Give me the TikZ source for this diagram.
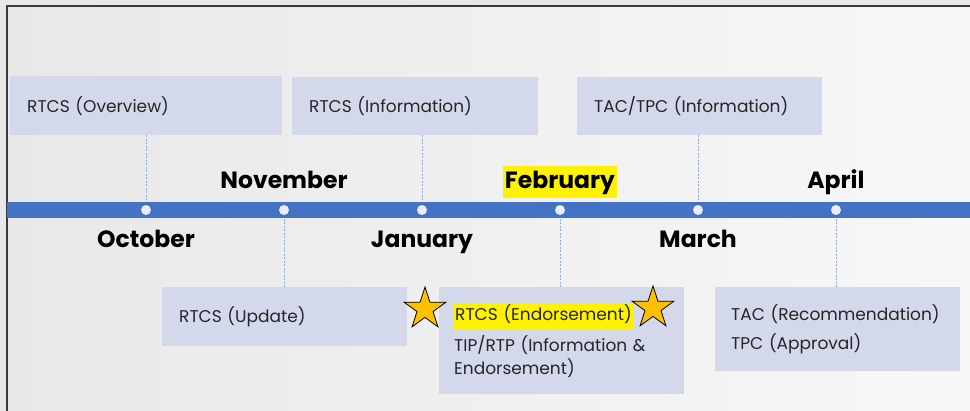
\documentclass[tikz,border=0pt]{standalone}
\usepackage{fontspec}
\setmainfont{Poppins}
\usetikzlibrary{shapes.geometric}
\definecolor{barblue}{HTML}{4472C4}
\definecolor{boxfill}{HTML}{D3D8EA}
\definecolor{conncol}{HTML}{8FAADC}
\definecolor{dotfill}{HTML}{E9EEF8}
\definecolor{starfill}{HTML}{FFC000}
\definecolor{framecol}{HTML}{3A3A3A}
\newcommand{\hlt}[1]{{\setlength{\fboxsep}{1pt}\colorbox{yellow}{\strut #1}}}
\tikzset{
  box/.style={fill=boxfill, draw=none, anchor=north west, inner xsep=17pt, inner ysep=0pt, align=left, font=\fontsize{17}{23}\selectfont, text=black!85},
  conn/.style={draw=conncol, line width=0.8pt, dash pattern=on 2pt off 1.5pt},
  dot/.style={circle, fill=dotfill, draw=none, minimum size=10pt, inner sep=0pt},
  month/.style={font=\fontsize{23.5}{26}\bfseries\selectfont, text=black, inner sep=1pt, anchor=base},
  starshape/.style={star, star points=5, star point ratio=2.618, fill=starfill, draw=black, line width=0.8pt, minimum size=44pt, inner sep=0pt}
}
\begin{document}
\begin{tikzpicture}[x=1pt,y=-1pt]
\useasboundingbox (0,0) rectangle (970,411);
\fill[gray!18] (0,0) rectangle (970,411);
\shade[left color=black!9, right color=black!3] (7,6) rectangle (970,411);
\draw[framecol, line width=1.3pt] (7,411) -- (7,6) -- (970,6);
% boxes
\node[box, minimum width=272pt, minimum height=59pt, text width=238pt] (b1) at (10,76) {RTCS (Overview)};
\node[box, minimum width=246pt, minimum height=58pt, text width=212pt] (b2) at (292,77) {RTCS (Information)};
\node[box, minimum width=245pt, minimum height=58pt, text width=211pt] (b3) at (577,77) {TAC/TPC (Information)};
\node[box, minimum width=245pt, minimum height=59pt, text width=211pt] (b4) at (162,287) {RTCS (Update)};
\node[box, minimum width=245pt, minimum height=107pt, text width=215pt, inner xsep=15pt] (b5) at (439,287) {\hlt{RTCS (Endorsement)}\\[6pt]TIP/RTP (Information \&\\Endorsement)};
\node[box, minimum width=245pt, minimum height=84pt, text width=213pt, inner xsep=16pt] (b6) at (715,287) {TAC (Recommendation)\\[6pt]TPC (Approval)};
% dots
\node[dot] (d1) at (146,210) {};
\node[dot] (d2) at (284,210) {};
\node[dot] (d3) at (422,210) {};
\node[dot] (d4) at (560,210) {};
\node[dot] (d5) at (698,210) {};
\node[dot] (d6) at (836,210) {};
% connectors
\draw[conn] (b1.south -| d1) -- (d1);
\draw[conn] (b2.south -| d3) -- (d3);
\draw[conn] (b3.south -| d5) -- (d5);
\draw[conn] (d2) -- (b4.north -| d2);
\draw[conn] (d4) -- (b5.north -| d4);
\draw[conn] (d6) -- (b6.north -| d6);
% bar
\fill[barblue] (7,202) rectangle (970,218);
\foreach \d in {d1,d2,d3,d4,d5,d6} {\node[dot] at (\d) {};}
% months
\node[month] (m1) at (146,248) {October};
\node[month] (m2) at (284,189) {November};
\node[month] (m3) at (422,248) {January};
\node[month, fill=yellow, text height=19pt, text depth=6pt, inner ysep=3.5pt, inner xsep=1.5pt] (m4) at (560,189) {February};
\node[month] (m5) at (698,248) {March};
\node[month] (m6) at (836,189) {April};
% stars
\node[starshape] (s1) at (425,309) {};
\node[starshape] (s2) at (653,308) {};
\end{tikzpicture}
\end{document}
